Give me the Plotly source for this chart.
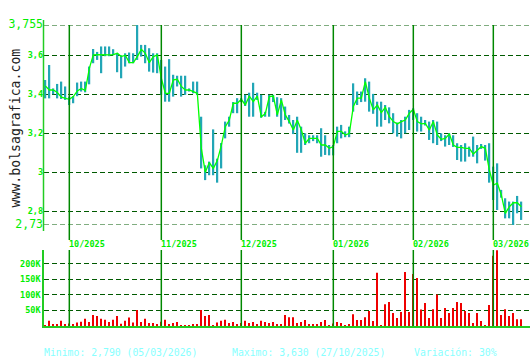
import plotly.graph_objects as go

# ---------------- data (one entry per trading session) ----------------
close = [3.443, 3.422, 3.422, 3.409, 3.385, 3.381, 3.374, 3.388, 3.417, 3.430,
         3.419, 3.533, 3.602, 3.603, 3.602, 3.602, 3.602, 3.603, 3.610, 3.593,
         3.600, 3.562, 3.562, 3.593, 3.630, 3.610, 3.562, 3.593, 3.602, 3.482,
         3.405, 3.405, 3.474, 3.477, 3.440, 3.422, 3.422, 3.414, 3.405, 3.123,
         3.000, 3.050, 3.020, 3.060, 3.138, 3.234, 3.268, 3.354, 3.354, 3.374,
         3.345, 3.391, 3.362, 3.391, 3.285, 3.301, 3.388, 3.391, 3.294, 3.371,
         3.294, 3.260, 3.217, 3.267, 3.217, 3.149, 3.174, 3.174, 3.174, 3.140,
         3.140, 3.123, 3.132, 3.210, 3.210, 3.191, 3.200, 3.337, 3.380, 3.380,
         3.465, 3.380, 3.320, 3.345, 3.306, 3.333, 3.285, 3.260, 3.248, 3.260,
         3.268, 3.303, 3.323, 3.260, 3.248, 3.251, 3.217, 3.260, 3.191, 3.169,
         3.174, 3.197, 3.140, 3.128, 3.128, 3.123, 3.123, 3.094, 3.115, 3.132,
         3.123, 3.012, 2.935, 2.944, 2.884, 2.790, 2.824, 2.844, 2.844, 2.824]

high = [3.473, 3.550, 3.430, 3.453, 3.465, 3.440, 3.388, 3.390, 3.460, 3.465,
        3.465, 3.542, 3.632, 3.617, 3.645, 3.645, 3.645, 3.631, 3.612, 3.600,
        3.610, 3.614, 3.610, 3.755, 3.653, 3.653, 3.636, 3.610, 3.610, 3.576,
        3.542, 3.580, 3.500, 3.495, 3.495, 3.495, 3.430, 3.465, 3.465, 3.285,
        3.036, 3.055, 3.220, 3.070, 3.150, 3.260, 3.285, 3.360, 3.380, 3.380,
        3.397, 3.408, 3.459, 3.408, 3.397, 3.310, 3.397, 3.397, 3.385, 3.380,
        3.337, 3.294, 3.268, 3.285, 3.234, 3.200, 3.190, 3.190, 3.190, 3.226,
        3.190, 3.140, 3.140, 3.234, 3.243, 3.210, 3.234, 3.456, 3.414, 3.414,
        3.482, 3.465, 3.402, 3.362, 3.362, 3.345, 3.333, 3.303, 3.255, 3.268,
        3.285, 3.320, 3.328, 3.303, 3.285, 3.268, 3.260, 3.268, 3.260, 3.200,
        3.190, 3.200, 3.190, 3.149, 3.140, 3.149, 3.132, 3.183, 3.140, 3.145,
        3.140, 3.149, 3.029, 3.046, 2.910, 2.867, 2.850, 2.850, 2.879, 2.850]

low = [3.379, 3.379, 3.400, 3.379, 3.376, 3.371, 3.345, 3.354, 3.390, 3.414,
       3.410, 3.451, 3.559, 3.576, 3.508, 3.595, 3.595, 3.600, 3.513, 3.482,
       3.542, 3.559, 3.559, 3.576, 3.593, 3.559, 3.516, 3.511, 3.508, 3.397,
       3.362, 3.362, 3.388, 3.440, 3.388, 3.397, 3.414, 3.405, 3.397, 3.020,
       2.960, 2.985, 2.985, 2.947, 3.020, 3.174, 3.234, 3.303, 3.303, 3.360,
       3.340, 3.285, 3.285, 3.371, 3.280, 3.285, 3.285, 3.360, 3.285, 3.234,
       3.268, 3.250, 3.196, 3.100, 3.100, 3.140, 3.149, 3.160, 3.149, 3.080,
       3.089, 3.087, 3.087, 3.149, 3.174, 3.180, 3.180, 3.311, 3.345, 3.360,
       3.362, 3.311, 3.300, 3.234, 3.234, 3.268, 3.251, 3.200, 3.183, 3.174,
       3.200, 3.217, 3.268, 3.209, 3.209, 3.240, 3.166, 3.149, 3.140, 3.160,
       3.132, 3.140, 3.130, 3.063, 3.055, 3.055, 3.080, 3.080, 3.046, 3.120,
       3.060, 2.947, 2.858, 2.807, 2.870, 2.764, 2.764, 2.730, 2.790, 2.756]

volume = [3, 17, 5, 6, 17, 6, 8, 6, 11, 14,
          23, 13, 35, 32, 23, 20, 13, 20, 32, 7,
          17, 27, 11, 51, 13, 23, 10, 10, 4, 14,
          20, 4, 10, 13, 3, 3, 3, 6, 6, 51,
          32, 35, 3, 11, 17, 20, 10, 13, 6, 10,
          17, 10, 13, 6, 17, 13, 10, 13, 6, 6,
          35, 28, 28, 10, 13, 19, 6, 6, 6, 13,
          19, 3, 8, 13, 10, 3, 5, 38, 19, 19,
          28, 48, 16, 171, 3, 70, 77, 42, 26, 45,
          173, 45, 167, 154, 53, 74, 26, 54, 101, 26,
          58, 42, 58, 77, 74, 48, 42, 10, 42, 16,
          3, 67, 225, 243, 35, 54, 32, 42, 22, 22]   # thousands of shares

month_start = [6, 29, 49, 72, 92, 112]            # session index of 1st day of month
month_labels = ["10/2025", "11/2025", "12/2025", "01/2026", "02/2026", "03/2026"]

price_ticks = [3.755, 3.6, 3.4, 3.2, 3.0, 2.8, 2.73]
price_tick_labels = ["3,755", "3,6", "3,4", "3,2", "3", "2,8", "2,73"]
vol_ticks = [50000, 100000, 150000, 200000]
vol_tick_labels = ["50K", "100K", "150K", "200K"]

min_date = "05/03/2026"
max_date = "27/10/2025"

# ---------------- figure ----------------
W, H = 530, 360
sessions = list(range(len(close)))
vol_shares = [v * 1000 for v in volume]
ranges = [h - l for h, l in zip(high, low)]

GREEN = "#00ee00"
AXIS = "#22cc22"
GRID = "#005a00"
MONTH = "#008800"
MONO = "DejaVu Sans Mono"
DASH = "5px,3px"


def py(p):  # pixel y (from top) -> paper fraction
    return 1 - p / H


x_dom = [44 / W, 1.0]
xr = [-0.33, -0.33 + (W - 44) / 4.0]

fig = go.Figure()
fig.add_trace(go.Bar(x=sessions, y=ranges, base=low, width=0.45,
                     marker=dict(color="#22a6b6", line=dict(width=0)),
                     xaxis="x", yaxis="y", hoverinfo="skip"))
fig.add_trace(go.Scatter(x=sessions, y=close, mode="lines",
                         line=dict(color="#00ff00", width=1.3),
                         xaxis="x", yaxis="y"))
fig.add_trace(go.Bar(x=sessions, y=vol_shares, width=0.26,
                     marker=dict(color="#ee0000", line=dict(width=0)),
                     xaxis="x2", yaxis="y2"))

big = "<span style='font-size:11.5px;font-weight:normal'>%s</span>"
ticktext = [big % t if i in (0, len(price_tick_labels) - 1) else t
            for i, t in enumerate(price_tick_labels)]

fig.update_layout(
    width=W, height=H, margin=dict(l=0, r=0, t=0, b=0, pad=0, autoexpand=False),
    paper_bgcolor="white", plot_bgcolor="white", showlegend=False,
    xaxis=dict(domain=x_dom, range=xr, showgrid=False, zeroline=False,
               showticklabels=False, showline=False, anchor="y", automargin=False),
    yaxis=dict(domain=[py(225), py(25)], range=[2.73, 3.755],
               tickvals=price_ticks, ticktext=ticktext,
               tickfont=dict(family=MONO, size=8.5, color=GREEN, weight="bold"),
               showgrid=True, gridcolor=GRID, griddash=DASH, gridwidth=1,
               zeroline=False, showline=False, ticks="", anchor="x", automargin=False),
    xaxis2=dict(domain=x_dom, range=xr, showgrid=False, zeroline=False,
                showticklabels=False, showline=True, linecolor=AXIS, linewidth=2,
                anchor="y2", automargin=False),
    yaxis2=dict(domain=[py(326), py(250)], range=[0, 243500],
                tickvals=vol_ticks, ticktext=vol_tick_labels,
                tickfont=dict(family=MONO, size=8.5, color=GREEN, weight="bold"),
                showgrid=True, gridcolor=GRID, griddash=DASH, gridwidth=1,
                zeroline=False, showline=True, linecolor=AXIS, linewidth=1.5,
                ticks="", anchor="x2", automargin=False),
)

shapes = []
# edge gridlines (plotly omits gridlines at the very ends of the range)
for v in (price_ticks[0], price_ticks[-1]):
    shapes.append(dict(type="line", xref="paper", yref="y", x0=44 / W, x1=1.0,
                       y0=v, y1=v, line=dict(color=GRID, width=1, dash=DASH),
                       layer="below"))
shapes.append(dict(type="line", xref="paper", yref="paper", x0=43.5 / W, x1=43.5 / W,
                   y0=py(231), y1=py(20), line=dict(color=AXIS, width=1.5)))
annotations = []
for m, lab in zip(month_start, month_labels):
    shapes.append(dict(type="line", xref="x", yref="paper", x0=m, x1=m,
                       y0=py(240), y1=py(25), line=dict(color=MONTH, width=1.5)))
    shapes.append(dict(type="line", xref="x", yref="paper", x0=m, x1=m,
                       y0=py(326), y1=py(250), line=dict(color=MONTH, width=1.5)))
    annotations.append(dict(x=m, y=py(243.5), xref="x", yref="paper", text=lab,
                            showarrow=False, xanchor="left", yanchor="middle",
                            xshift=-2,
                            font=dict(family=MONO, size=8.5, color=GREEN, weight="bold")))

annotations.append(dict(x=15 / W, y=py(128.5), xref="paper", yref="paper",
                        text="www.bolsagrafica.com", textangle=-90, showarrow=False,
                        xanchor="center", yanchor="middle",
                        font=dict(family=MONO, size=13.2, color="#222222")))

vmin = min(close)
vmax = max(close)
var_pct = round((vmax - vmin) / vmin * 100)
fmt = lambda v: ("%.3f" % v).replace(".", ",")
stats = [("Minimo: %s (%s)" % (fmt(vmin), min_date), 44),
         ("Maximo: %s (%s)" % (fmt(vmax), max_date), 232),
         ("Variación: %d%%" % var_pct, 414)]
for txt, xp in stats:
    annotations.append(dict(x=xp / W, y=py(352), xref="paper", yref="paper", text=txt,
                            showarrow=False, xanchor="left", yanchor="middle", xshift=-2,
                            font=dict(family=MONO, size=9.8, color="#88ffff")))

fig.update_layout(shapes=shapes, annotations=annotations)
fig.write_html("out.html")
